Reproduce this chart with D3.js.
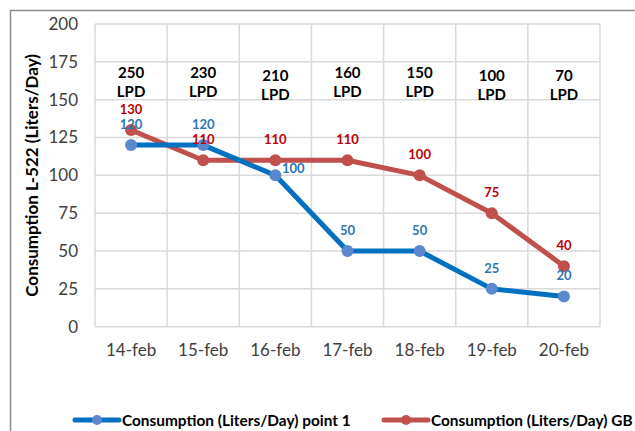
<!DOCTYPE html>
<html><head><meta charset="utf-8">
<script src="https://cdn.jsdelivr.net/npm/d3@7"></script>
<style>body{margin:0;background:#fff}svg{display:block}text{font-family:Lato,"Open Sans",sans-serif}</style>
</head><body><svg id="c" width="635" height="431"></svg>
<script>
const categories = ["14-feb","15-feb","16-feb","17-feb","18-feb","19-feb","20-feb"];
const point1 = [120,120,100,50,50,25,20];
const gb = [130,110,110,110,100,75,40];
const lpd = [250,230,210,160,150,100,70];
const yTicks = [0,25,50,75,100,125,150,175,200];
const seriesNames = ["Consumption (Liters/Day) point 1","Consumption (Liters/Day) GB"];

const svg = d3.select("#c");
const m = {l:95, r:600, t:24, b:326.7};
const x = d3.scaleBand().domain(categories).range([m.l, m.r]);
const y = d3.scaleLinear().domain([0,200]).range([m.b, m.t]);
const cx = d => x(d) + x.bandwidth()/2;

// frame
svg.append("path").attr("d","M10.5,431 V10.5 H635").attr("fill","none").attr("stroke","#8c8c8c").attr("stroke-width",1.5);

// grid
const g = svg.append("g");
g.selectAll(".hg").data(yTicks).join("line").attr("x1",m.l).attr("x2",m.r)
  .attr("y1",d=>y(d)).attr("y2",d=>y(d)).attr("stroke","#d9d9d9").attr("stroke-width",1.5);
const bounds = categories.map(c=>x(c)).concat([m.r]);
g.selectAll(".vg").data(bounds).join("line").attr("x1",d=>d).attr("x2",d=>d)
  .attr("y1",m.t).attr("y2",m.b).attr("stroke","#d9d9d9").attr("stroke-width",1.5);

// y axis
const ya = svg.append("g").attr("transform",`translate(${m.l},0)`)
  .call(d3.axisLeft(y).tickValues(yTicks).tickSize(0).tickPadding(17));
ya.select(".domain").remove();
ya.selectAll("text").attr("font-size",17).attr("fill","#404040").style("font-family","Lato,'Open Sans',sans-serif");

// x axis
const xa = svg.append("g").attr("transform",`translate(0,${m.b})`)
  .call(d3.axisBottom(x).tickSize(0).tickPadding(17));
xa.select(".domain").remove();
xa.selectAll("text").attr("font-size",17).attr("fill","#404040").style("font-family","Lato,'Open Sans',sans-serif");

// y title
svg.append("text").attr("transform",`translate(38,${(m.t+m.b)/2}) rotate(-90)`)
  .attr("text-anchor","middle").attr("font-size",17).attr("font-weight","bold").attr("fill","#000")
  .text("Consumption L-522 (Liters/Day)");

// LPD annotations
const lg = svg.append("g").attr("font-weight","bold").attr("font-size",15).attr("fill","#000").attr("text-anchor","middle");
lpd.forEach((v,i)=>{
  const off = (i===2||i===5||i===6) ? 3 : 0;
  lg.append("text").attr("x",cx(categories[i])).attr("y",y(200)+54+off).text(v);
  lg.append("text").attr("x",cx(categories[i])).attr("y",y(200)+73+off).text("LPD");
});

const line = d3.line().x((d,i)=>cx(categories[i])).y(d=>y(d));
const series = [
  {vals:gb, line:"#C0504D", mark:"#C0504D", lab:"#C00000"},
  {vals:point1, line:"#0070C0", mark:"#5B87CD", lab:"#2E75B6"}
];
series.forEach(s=>{
  svg.append("path").datum(s.vals).attr("d",line).attr("fill","none")
    .attr("stroke",s.line).attr("stroke-width",5).attr("stroke-linejoin","round");
  svg.selectAll(null).data(s.vals).join("circle").attr("cx",(d,i)=>cx(categories[i])).attr("cy",d=>y(d))
    .attr("r",6).attr("fill",s.mark);
});
series.forEach((s,si)=>{
  svg.selectAll(null).data(s.vals).join("text")
    .attr("x",(d,i)=> (si===1 && i===2) ? cx(categories[i])+18 : cx(categories[i]))
    .attr("y",(d,i)=> (si===1 && i===2) ? y(d)-2 : y(d)-16)
    .attr("text-anchor","middle")
    .attr("font-size",13).attr("font-weight","bold").attr("fill",s.lab).text(d=>d);
});

// legend
const leg = [{x:75, c:"#0070C0", m:"#5B87CD"},{x:384, c:"#C0504D", m:"#C0504D"}];
leg.forEach((l,i)=>{
  svg.append("line").attr("x1",l.x).attr("x2",l.x+44).attr("y1",420).attr("y2",420)
    .attr("stroke",l.c).attr("stroke-width",5).attr("stroke-linecap","round");
  svg.append("circle").attr("cx",l.x+22).attr("cy",420).attr("r",5).attr("fill",l.m);
  svg.append("text").attr("x",l.x+47).attr("y",425.5).attr("font-size",15.4).attr("font-weight","bold")
    .attr("fill","#000").text(seriesNames[i]);
});
</script></body></html>
